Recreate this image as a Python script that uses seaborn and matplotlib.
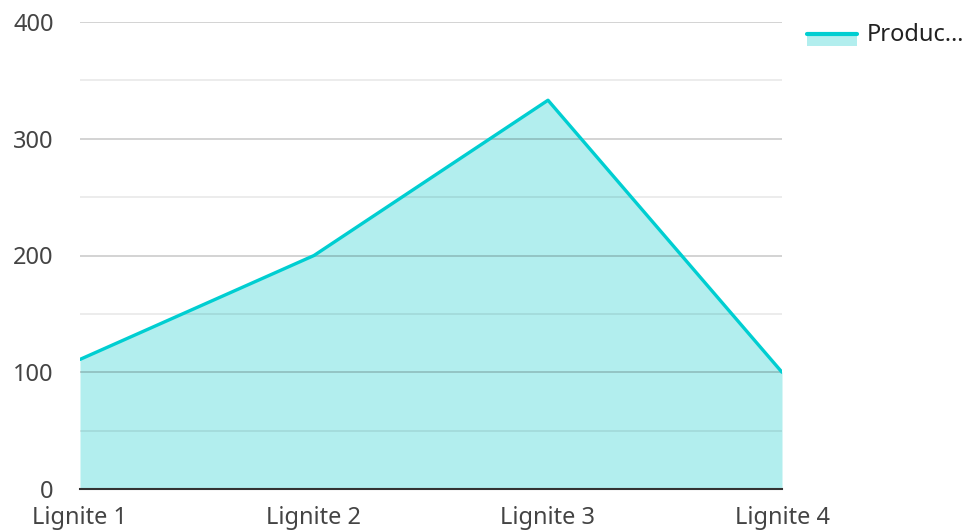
import pandas as pd
import matplotlib
matplotlib.use("Agg")
import matplotlib.pyplot as plt
import seaborn as sns
from matplotlib.legend_handler import HandlerBase
from matplotlib.patches import Rectangle
from matplotlib.lines import Line2D
from matplotlib.ticker import MultipleLocator

# dados
categorias = ["Lignite 1", "Lignite 2", "Lignite 3", "Lignite 4"]
producao = [111, 200, 333, 100]
serie = "Produc…"

df = pd.DataFrame({"pos": range(len(categorias)), "valor": producao})

COR_LINHA = "#00CED1"
COR_AREA = "#B2EEEE"
COR_TEXTO = "#444444"

sns.set_style("white")
plt.rcParams["font.family"] = ["Noto Sans", "DejaVu Sans"]


class AreaHandler(HandlerBase):
    def create_artists(self, legend, orig, xd, yd, w, h, fontsize, trans):
        rect = Rectangle((xd, yd - 0.3 * h), w, 0.8 * h, facecolor=COR_AREA,
                         edgecolor="none", transform=trans)
        lin = Line2D([xd, xd + w], [yd + 0.42 * h, yd + 0.42 * h],
                     color=COR_LINHA, lw=3, transform=trans)
        return [rect, lin]


fig = plt.figure(figsize=(9.69, 5.31), dpi=100)
ax = fig.add_axes([80 / 969, 42 / 531, 702 / 969, 467 / 531])

ax.fill_between(df["pos"], df["valor"], color=COR_AREA, linewidth=0, zorder=1)
sns.lineplot(data=df, x="pos", y="valor", color=COR_LINHA, linewidth=2.4,
             ax=ax, zorder=3)

ax.set_xlim(0, len(categorias) - 1)
ax.set_ylim(0, 400)
ax.yaxis.set_major_locator(MultipleLocator(100))
ax.yaxis.set_minor_locator(MultipleLocator(50))
ax.grid(which="major", axis="y", color="#000000", alpha=0.2, linewidth=1.2, zorder=2)
ax.grid(which="minor", axis="y", color="#000000", alpha=0.09, linewidth=1.2, zorder=2)
ax.set_axisbelow(False)

ax.set_xticks(df["pos"])
ax.set_xticklabels(categorias)
ax.tick_params(axis="both", which="both", length=0, labelsize=17, colors=COR_TEXTO)
ax.tick_params(axis="x", pad=12)
ax.tick_params(axis="y", pad=19)
ax.set_xlabel("")
ax.set_ylabel("")

for lado in ["top", "right", "left"]:
    ax.spines[lado].set_visible(False)
ax.spines["bottom"].set_color("#333333")
ax.spines["bottom"].set_linewidth(1.5)
ax.spines["bottom"].set_zorder(4)

leg = fig.legend(handles=[object()], labels=[serie], handler_map={object: AreaHandler()},
                 loc="upper left", bbox_to_anchor=(807 / 969, 1 - 23 / 531),
                 frameon=False, fontsize=17, handlelength=2.12, handletextpad=0.42,
                 borderpad=0, borderaxespad=0, labelcolor="#222222")

fig.savefig("out.png", dpi=100)
